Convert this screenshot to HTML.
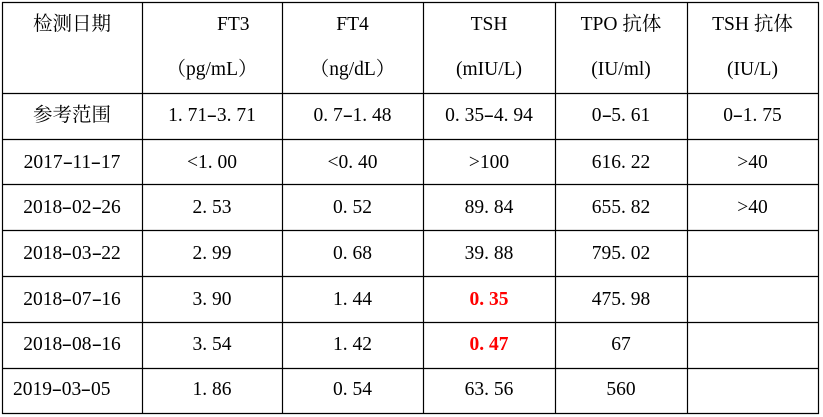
<!DOCTYPE html>
<html><head><meta charset="utf-8">
<style>
html,body{margin:0;padding:0}
body{width:823px;height:417px;background:#fff;position:relative;overflow:hidden;font-family:"Liberation Serif","Noto Serif CJK SC",serif;font-size:19.5px;color:#000}
.t{position:absolute;line-height:20px;white-space:pre;text-align:center}
i{font-style:normal;display:inline-block;width:.5em;text-align:center;transform:scaleX(1.6)}
u{text-decoration:none;display:inline-block;width:.5em;text-align:left}
.r{color:#ff0000;font-weight:bold}
.c0{left:2px;width:140px}
.c1{left:142px;width:140px}
.c2{left:282px;width:141px}
.c3{left:423px;width:132px}
.c4{left:555px;width:132px}
.c5{left:687px;width:131px}
svg{position:absolute;left:0;top:0}
</style></head><body>
<svg width="823" height="417" viewBox="0 0 823 417">
<g stroke="#000" stroke-width="1.2" fill="none">
<line x1="2" y1="2.5" x2="819" y2="2.5"/>
<line x1="2" y1="93.5" x2="819" y2="93.5"/>
<line x1="2" y1="139.5" x2="819" y2="139.5"/>
<line x1="2" y1="184.5" x2="819" y2="184.5"/>
<line x1="2" y1="230.5" x2="819" y2="230.5"/>
<line x1="2" y1="276.5" x2="819" y2="276.5"/>
<line x1="2" y1="322.5" x2="819" y2="322.5"/>
<line x1="2" y1="368.5" x2="819" y2="368.5"/>
<line x1="2" y1="413.5" x2="819" y2="413.5"/>
<line x1="2.5" y1="2" x2="2.5" y2="414"/>
<line x1="142.5" y1="2" x2="142.5" y2="414"/>
<line x1="282.5" y1="2" x2="282.5" y2="414"/>
<line x1="423.5" y1="2" x2="423.5" y2="414"/>
<line x1="555.5" y1="2" x2="555.5" y2="414"/>
<line x1="687.5" y1="2" x2="687.5" y2="414"/>
<line x1="818.5" y1="2" x2="818.5" y2="414"/>
</g></svg>

<!-- header line 1 -->
<div class="t c0" style="top:15px">检测日期</div>
<div class="t" style="top:15px;left:217px">FT3</div>
<div class="t c2" style="top:15px">FT4</div>
<div class="t c3" style="top:15px">TSH</div>
<div class="t c4" style="top:15px">TPO 抗体</div>
<div class="t c5" style="top:15px">TSH 抗体</div>
<!-- header line 2 -->
<div class="t c1" style="top:60px">（pg/mL）</div>
<div class="t c2" style="top:60px">（ng/dL）</div>
<div class="t c3" style="top:60px">(mIU/L)</div>
<div class="t c4" style="top:60px">(IU/ml)</div>
<div class="t c5" style="top:60px">(IU/L)</div>

<!-- reference row -->
<div class="t c0" style="top:106px">参考范围</div>
<div class="t c1" style="top:106px">1<u>.</u>71<i>-</i>3<u>.</u>71</div>
<div class="t c2" style="top:106px">0<u>.</u>7<i>-</i>1<u>.</u>48</div>
<div class="t c3" style="top:106px">0<u>.</u>35<i>-</i>4<u>.</u>94</div>
<div class="t c4" style="top:106px">0<i>-</i>5<u>.</u>61</div>
<div class="t c5" style="top:106px">0<i>-</i>1<u>.</u>75</div>

<!-- 2017-11-17 -->
<div class="t c0" style="top:153px">2017<i>-</i>11<i>-</i>17</div>
<div class="t c1" style="top:153px">&lt;1<u>.</u>00</div>
<div class="t c2" style="top:153px">&lt;0<u>.</u>40</div>
<div class="t c3" style="top:153px">&gt;100</div>
<div class="t c4" style="top:153px">616<u>.</u>22</div>
<div class="t c5" style="top:153px">&gt;40</div>

<!-- 2018-02-26 -->
<div class="t c0" style="top:198px">2018<i>-</i>02<i>-</i>26</div>
<div class="t c1" style="top:198px">2<u>.</u>53</div>
<div class="t c2" style="top:198px">0<u>.</u>52</div>
<div class="t c3" style="top:198px">89<u>.</u>84</div>
<div class="t c4" style="top:198px">655<u>.</u>82</div>
<div class="t c5" style="top:198px">&gt;40</div>

<!-- 2018-03-22 -->
<div class="t c0" style="top:244px">2018<i>-</i>03<i>-</i>22</div>
<div class="t c1" style="top:244px">2<u>.</u>99</div>
<div class="t c2" style="top:244px">0<u>.</u>68</div>
<div class="t c3" style="top:244px">39<u>.</u>88</div>
<div class="t c4" style="top:244px">795<u>.</u>02</div>

<!-- 2018-07-16 -->
<div class="t c0" style="top:290px">2018<i>-</i>07<i>-</i>16</div>
<div class="t c1" style="top:290px">3<u>.</u>90</div>
<div class="t c2" style="top:290px">1<u>.</u>44</div>
<div class="t c3 r" style="top:290px">0<u>.</u>35</div>
<div class="t c4" style="top:290px">475<u>.</u>98</div>

<!-- 2018-08-16 -->
<div class="t c0" style="top:335px">2018<i>-</i>08<i>-</i>16</div>
<div class="t c1" style="top:335px">3<u>.</u>54</div>
<div class="t c2" style="top:335px">1<u>.</u>42</div>
<div class="t c3 r" style="top:335px">0<u>.</u>47</div>
<div class="t c4" style="top:335px">67</div>

<!-- 2019-03-05 -->
<div class="t" style="top:380px;left:13px">2019<i>-</i>03<i>-</i>05</div>
<div class="t c1" style="top:380px">1<u>.</u>86</div>
<div class="t c2" style="top:380px">0<u>.</u>54</div>
<div class="t c3" style="top:380px">63<u>.</u>56</div>
<div class="t c4" style="top:380px">560</div>
</body></html>
